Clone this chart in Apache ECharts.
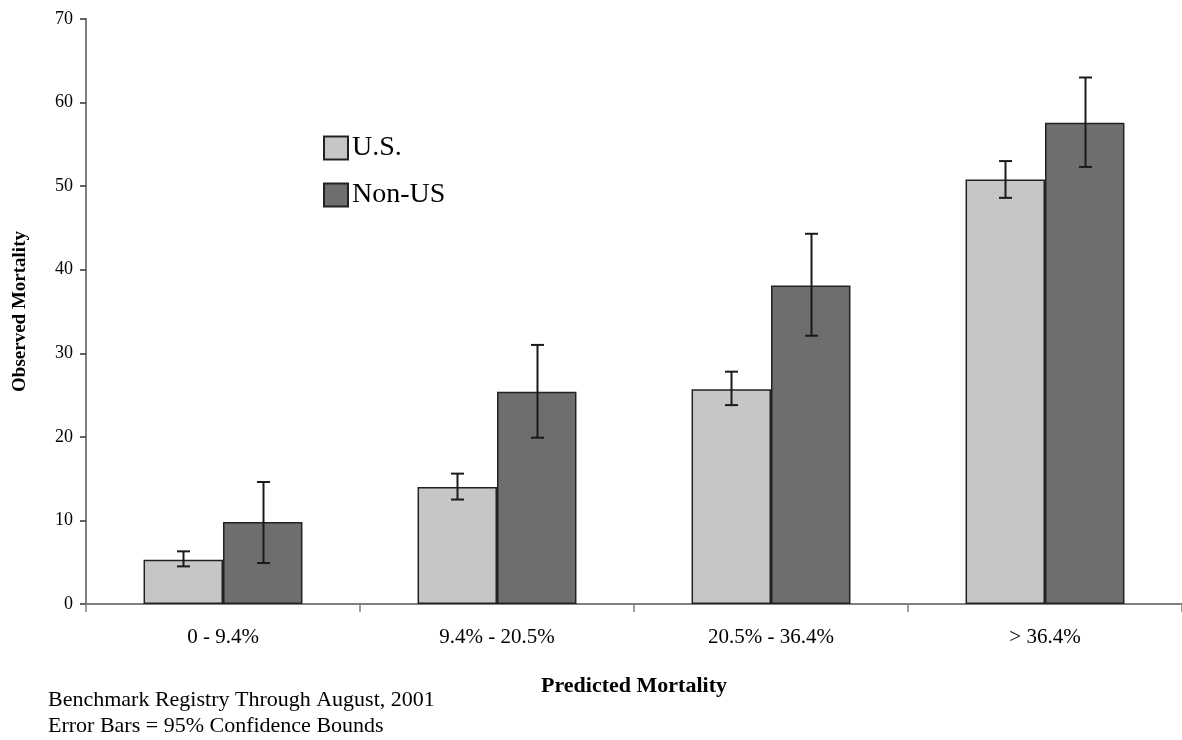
<!DOCTYPE html>
<html>
<head>
<meta charset="utf-8">
<script src="https://cdn.jsdelivr.net/npm/echarts@6/dist/echarts.min.js"></script>
<style>
  html, body { margin: 0; padding: 0; background: #fff; }
  #chart { width: 1182px; height: 740px; }
</style>
</head>
<body>
<div id="chart"></div>
<script>
// 类别与数据
var categories = ['0 - 9.4%', '9.4% - 20.5%', '20.5% - 36.4%', '> 36.4%'];
var usValues = [5.3, 14.0, 25.7, 50.8];
var usLow = [4.5, 12.5, 23.8, 48.6];
var usHigh = [6.3, 15.6, 27.8, 53.0];
var nonUsValues = [9.8, 25.4, 38.1, 57.6];
var nonUsLow = [4.9, 19.9, 32.1, 52.3];
var nonUsHigh = [14.6, 31.0, 44.3, 63.0];
var yTicks = [0, 10, 20, 30, 40, 50, 60, 70];

var FONT = '"Liberation Serif", "Times New Roman", serif';
var CAT_GAP = 0.42; // barCategoryGap

var myChart = echarts.init(document.getElementById('chart'));

// 误差线 renderItem, side = -1 左柱, 1 右柱
function errorBar(side) {
  return function (params, api) {
    var idx = api.value(0);
    var lo = api.coord([idx, api.value(1)]);
    var hi = api.coord([idx, api.value(2)]);
    var catW = api.size([1, 0])[0];
    var barW = catW * (1 - CAT_GAP) / 2;
    var x = Math.round(lo[0] + side * barW / 2) + 0.5;
    var cap = 6.5;
    var style = { stroke: '#1a1a1a', lineWidth: 2, fill: null };
    return {
      type: 'group',
      children: [
        { type: 'line', shape: { x1: x, y1: lo[1], x2: x, y2: hi[1] }, style: style },
        { type: 'line', shape: { x1: x - cap, y1: lo[1], x2: x + cap, y2: lo[1] }, style: style },
        { type: 'line', shape: { x1: x - cap, y1: hi[1], x2: x + cap, y2: hi[1] }, style: style }
      ]
    };
  };
}

function errData(low, high) {
  return categories.map(function (c, i) { return [i, low[i], high[i]]; });
}

var option = {
  animation: false,
  textStyle: { fontFamily: FONT },
  grid: { left: 86, right: 0, top: 19, bottom: 136, containLabel: false, outerBoundsMode: 'none' },
  legend: {
    orient: 'vertical',
    left: 318,
    top: 129,
    itemWidth: 24,
    itemHeight: 23,
    itemGap: 19,
    icon: 'rect',
    textStyle: { fontFamily: FONT, fontSize: 28, color: '#000', padding: [0, 0, 0, -1] },
    data: ['U.S.', 'Non-US']
  },
  xAxis: {
    type: 'category',
    data: categories,
    name: 'Predicted Mortality',
    nameLocation: 'middle',
    nameGap: 71,
    nameTextStyle: { fontFamily: FONT, fontSize: 22, fontWeight: 'bold', color: '#000' },
    axisLine: { lineStyle: { color: '#808080', width: 2 } },
    axisTick: { show: true, length: 8, lineStyle: { color: '#808080', width: 1.5 } },
    axisLabel: { fontFamily: FONT, fontSize: 21, color: '#000', margin: 23 }
  },
  yAxis: {
    type: 'value',
    min: 0,
    max: 70,
    interval: 10,
    name: 'Observed Mortality',
    nameLocation: 'middle',
    nameGap: 56,
    nameTextStyle: { fontFamily: FONT, fontSize: 19, fontWeight: 'bold', color: '#000' },
    axisLine: { show: true, lineStyle: { color: '#808080', width: 2 } },
    axisTick: { show: true, inside: false, length: 6, lineStyle: { color: '#333', width: 1.5 } },
    axisLabel: {
      fontFamily: FONT, fontSize: 18, color: '#000', margin: 13,
      formatter: function (v) { return yTicks.indexOf(v) >= 0 ? String(v) : ''; }
    },
    splitLine: { show: false }
  },
  series: [
    {
      name: 'U.S.',
      type: 'bar',
      data: usValues,
      barGap: '0%',
      barCategoryGap: (CAT_GAP * 100) + '%',
      itemStyle: { color: '#c6c6c6', borderColor: '#222', borderWidth: 1.5 }
    },
    {
      name: 'Non-US',
      type: 'bar',
      data: nonUsValues,
      barGap: '0%',
      barCategoryGap: (CAT_GAP * 100) + '%',
      itemStyle: { color: '#6e6e6e', borderColor: '#222', borderWidth: 1.5 }
    },
    {
      name: 'usErr',
      type: 'custom',
      renderItem: errorBar(-1),
      data: errData(usLow, usHigh),
      encode: { x: 0, y: [1, 2] },
      z: 5
    },
    {
      name: 'nonUsErr',
      type: 'custom',
      renderItem: errorBar(1),
      data: errData(nonUsLow, nonUsHigh),
      encode: { x: 0, y: [1, 2] },
      z: 5
    }
  ],
  graphic: [
    {
      type: 'text',
      left: 48,
      top: 689,
      style: { text: 'Benchmark Registry Through August, 2001', fontFamily: FONT, fontSize: 22, fill: '#000' }
    },
    {
      type: 'text',
      left: 48,
      top: 715,
      style: { text: 'Error Bars = 95% Confidence Bounds', fontFamily: FONT, fontSize: 22, fill: '#000' }
    }
  ]
};

myChart.setOption(option);
</script>
</body>
</html>
